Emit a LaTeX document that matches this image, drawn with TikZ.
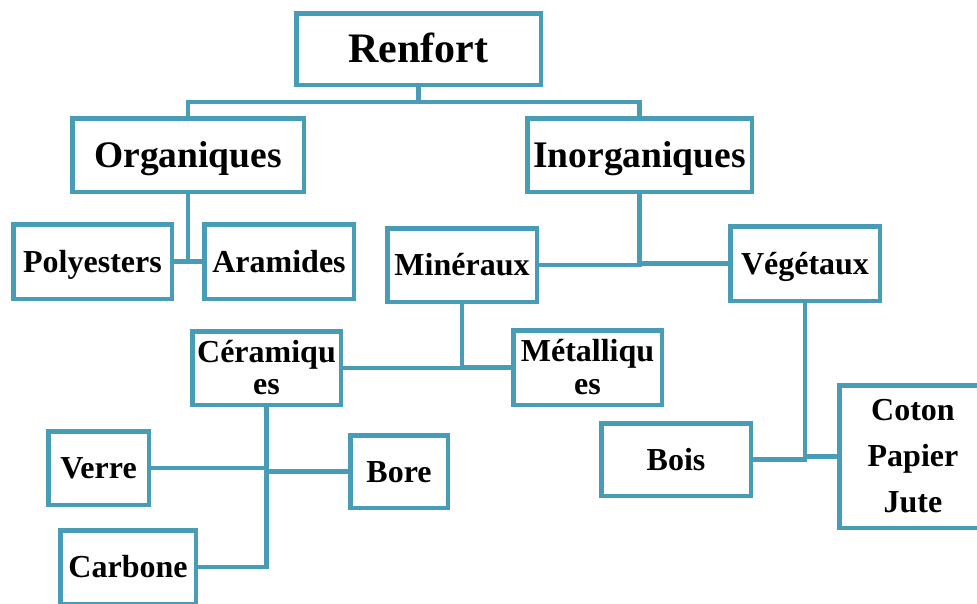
\documentclass[tikz,border=0pt]{standalone}
\usepackage{fontspec}
\setmainfont{Liberation Serif}
\definecolor{frame}{HTML}{489CB5}
\begin{document}
\begin{tikzpicture}[x=1pt,y=-1pt,
  rbox/.style={draw=frame, line width=4.5pt, inner sep=0pt, fill=white,
    align=center, minimum width=#1},
  big/.style={font=\fontsize{42}{42}\selectfont\bfseries, text height=27.8pt, text depth=0pt},
  mid/.style={font=\fontsize{37.5}{37.5}\selectfont\bfseries, text height=24.8pt, text depth=0pt},
  small/.style={font=\fontsize{32}{32}\selectfont\bfseries, text height=21.2pt, text depth=0pt},
  link/.style={draw=frame, line width=4.5pt, line join=miter}]
\useasboundingbox (0,0) rectangle (977,603);

% top level
\node[rbox=244.5pt, minimum height=71.5pt, big] (renfort) at (418.5,49) {Renfort};
\node[rbox=231.5pt, minimum height=73.5pt, mid] (org) at (188,155) {Organiques};
\node[rbox=224.5pt, minimum height=73.5pt, mid] (inorg) at (639.5,155) {Inorganiques};

% second level
\node[rbox=158.5pt, minimum height=74.5pt, small] (poly) at (92.5,261.5) {Polyesters};
\node[rbox=149.5pt, minimum height=74.5pt, small] (aram) at (279,261.5) {Aramides};
\node[rbox=149.5pt, minimum height=73.5pt, small] (miner) at (462,265) {Minéraux};
\node[rbox=149.5pt, minimum height=74.5pt, small] (veget) at (805,263.5) {Végétaux};

% mineral branch
\node[rbox=148.5pt, minimum height=73.5pt, font=\fontsize{32}{32}\selectfont\bfseries] (ceram) at (266.5,368) {Céramiqu\\es};
\node[rbox=148.5pt, minimum height=74.5pt, font=\fontsize{32}{33}\selectfont\bfseries] (metal) at (587.5,367.5) {Métalliqu\\es};
\node[rbox=100.5pt, minimum height=73.5pt, small] (verre) at (98.5,468) {Verre};
\node[rbox=97.5pt, minimum height=72.5pt, small] (bore) at (399,471.5) {Bore};
\node[rbox=135.5pt, minimum height=73.5pt, small] (carb) at (128,567) {Carbone};

% vegetable branch
\node[rbox=149.5pt, minimum height=72.5pt, small] (bois) at (676,459.5) {Bois};
\node[rbox=147.5pt, minimum height=142.5pt, font=\fontsize{32}{46}\selectfont\bfseries] (coton) at (913,456.5) {Coton\\Papier\\Jute};

% connectors
\coordinate (j0) at (418.5,102);
\coordinate (j1) at (188,262);
\draw[link] (renfort.south) -- (j0);
\draw[link] (org.north) |- (j0) -| (inorg.north);
\draw[link] (org.south) -- (j1);
\draw[link] (poly.east) -- (aram.west);
\draw[link] (inorg.south) |- (miner.east);
\draw[link] (inorg.south) |- (veget.west);
\draw[link] (miner.south) |- (ceram.east);
\draw[link] (miner.south) |- (metal.west);
\draw[link] (ceram.south) |- (verre.east);
\draw[link] (ceram.south) |- (bore.west);
\draw[link] (ceram.south) |- (carb.east);
\draw[link] (veget.south) |- (bois.east);
\draw[link] (veget.south) |- (coton.west);
\end{tikzpicture}
\end{document}
